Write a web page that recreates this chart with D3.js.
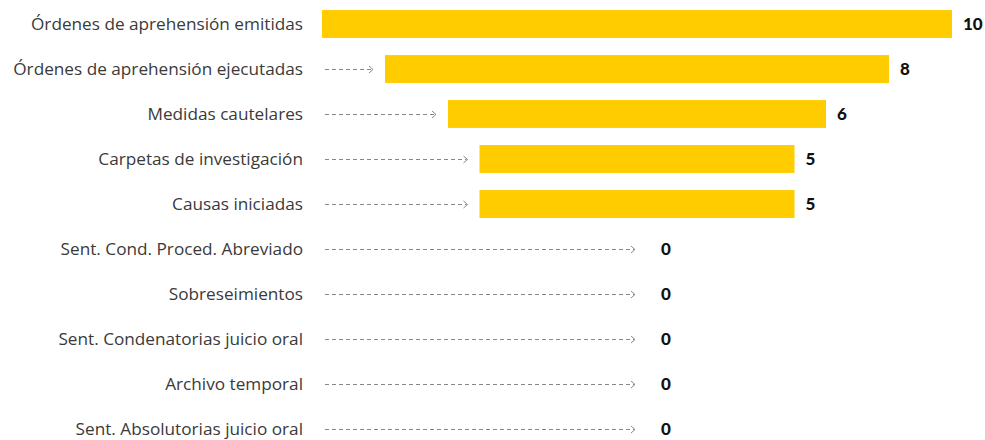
<!DOCTYPE html>
<html><head><meta charset="utf-8">
<script src="https://cdn.jsdelivr.net/npm/d3@7"></script>
<style>body{margin:0;background:#fff}</style>
</head><body>
<svg id="c" width="985" height="440"></svg>
<script>
const categories = ["Órdenes de aprehensión emitidas","Órdenes de aprehensión ejecutadas","Medidas cautelares","Carpetas de investigación","Causas iniciadas","Sent. Cond. Proced. Abreviado","Sobreseimientos","Sent. Condenatorias juicio oral","Archivo temporal","Sent. Absolutorias juicio oral"];
const values = [10,8,6,5,5,0,0,0,0,0];

const svg = d3.select("#c");
const cx = 637;
const y = d3.scaleBand().domain(categories).range([1.5, 451.5]).paddingInner(0.38).paddingOuter(0.19);
const w = d3.scaleLinear().domain([0,10]).range([0,630]);
const lineStart = 325;

const data = categories.map((c,i)=>({c, v: values[i]}));
const g = svg.append("g");
const row = g.selectAll("g.row").data(data).join("g").attr("class","row")
  .attr("transform", d=>`translate(0,${y(d.c)+y.bandwidth()/2})`);

row.append("text").attr("x",303).attr("y",0).attr("dy","0.35em")
  .attr("text-anchor","end").attr("font-family","'Open Sans', sans-serif")
  .attr("font-weight",400)
  .attr("font-size",17.2).attr("fill","#3a3a3a").text(d=>d.c);

row.append("rect")
  .attr("x", d=>cx - w(d.v)/2).attr("y", -y.bandwidth()/2)
  .attr("width", d=>w(d.v)).attr("height", y.bandwidth()).attr("fill","#FFCC00");

const arrowEnd = d => d.v>0 ? cx - w(d.v)/2 - 12 : cx - 2;
row.filter(d=>arrowEnd(d) > lineStart + 20).each(function(d){
  const s = d3.select(this), e = arrowEnd(d);
  s.append("line").attr("x1",lineStart).attr("x2",e-1).attr("y1",0.5).attr("y2",0.5)
    .attr("stroke","#888").attr("stroke-width",1).attr("stroke-dasharray","4,3");
  s.append("path").attr("d",`M${e-4},-3 L${e},0.5 L${e-4},4`).attr("fill","none")
    .attr("stroke","#888").attr("stroke-width",1);
});

row.append("text")
  .attr("x", d=> d.v>0 ? cx + w(d.v)/2 + 11 : cx + 24)
  .attr("y",0).attr("dy","0.36em")
  .attr("font-family","Lato, sans-serif").attr("font-weight",900)
  .attr("font-size",17).attr("fill","#111").text(d=>d.v);
</script>
</body></html>
